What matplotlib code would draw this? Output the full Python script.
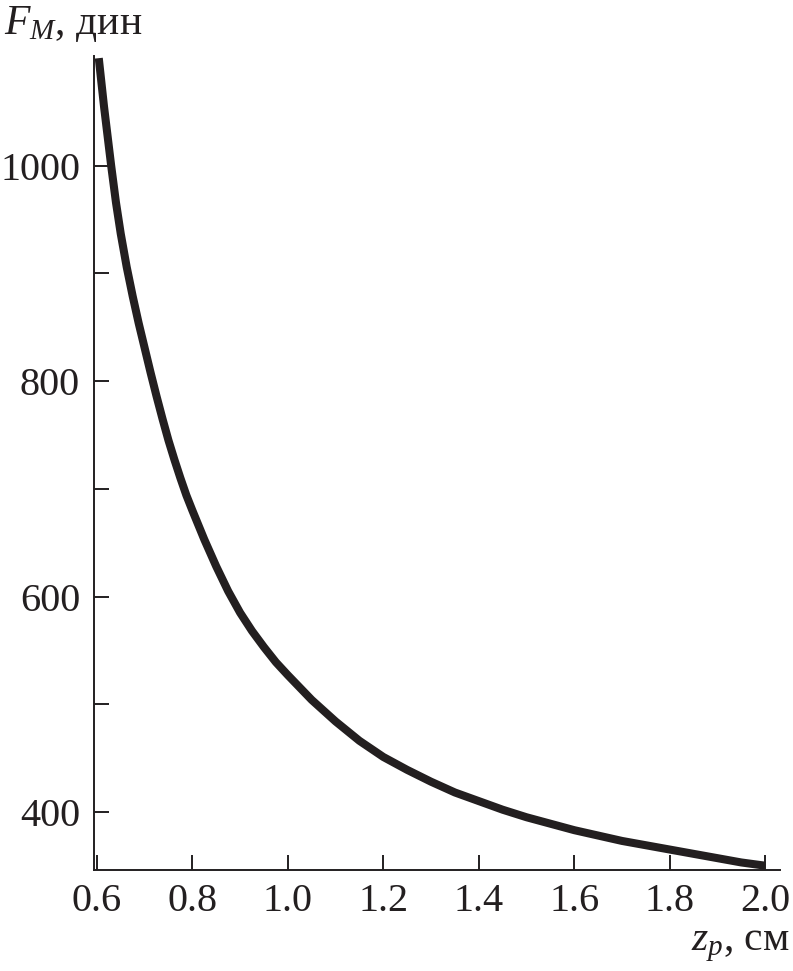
import matplotlib
matplotlib.use("Agg")
import matplotlib.pyplot as plt
from matplotlib.ticker import FixedLocator

# Data
z_p = [0.604, 0.615, 0.63, 0.64, 0.65, 0.6625, 0.675, 0.6875, 0.70, 0.7125, 0.725, 0.7375,
       0.75, 0.7625, 0.775, 0.7875, 0.80, 0.825, 0.85, 0.875, 0.90, 0.925, 0.95, 0.975,
       1.00, 1.05, 1.10, 1.15, 1.20, 1.25, 1.30, 1.35, 1.40, 1.45, 1.50, 1.55,
       1.60, 1.65, 1.70, 1.75, 1.80, 1.85, 1.90, 1.95, 2.00]
F_M = [1100, 1055, 1000, 966, 937, 906, 879, 854, 831, 808, 786, 765,
       745, 727, 710, 694, 680, 653, 628, 605, 585, 568, 553, 539,
       527, 504, 484, 466, 451, 439, 428, 418, 410, 402, 395, 389,
       383, 378, 373, 369, 365, 361, 357, 353, 350]

x_ticks = [0.6, 0.8, 1.0, 1.2, 1.4, 1.6, 1.8, 2.0]
x_ticklabels = ["0.6", "0.8", "1.0", "1.2", "1.4", "1.6", "1.8", "2.0"]
y_ticks = [400, 600, 800, 1000]
y_minor = [500, 700, 900]

plt.rcParams['font.family'] = ['Liberation Serif', 'DejaVu Serif']
plt.rcParams['mathtext.fontset'] = 'custom'
plt.rcParams['mathtext.rm'] = 'Liberation Serif'
plt.rcParams['mathtext.it'] = 'Liberation Serif:italic'

ink = '#231f20'
fig = plt.figure(figsize=(7.93, 9.71), dpi=100)
ax = fig.add_axes([94/793, 101/971, (780-94)/793, (870-56)/971])

ax.plot(z_p, F_M, color=ink, lw=5.8, solid_capstyle='butt', solid_joinstyle='round')

ax.set_xlim(0.594, 2.031)
ax.set_ylim(346, 1102)

ax.set_xticks(x_ticks)
ax.set_xticklabels(x_ticklabels)
ax.set_yticks(y_ticks)
ax.yaxis.set_minor_locator(FixedLocator(y_minor))

for s in ['top', 'right']:
    ax.spines[s].set_visible(False)
for s in ['left', 'bottom']:
    ax.spines[s].set_linewidth(1.4)
    ax.spines[s].set_color(ink)

ax.tick_params(axis='both', which='both', direction='in', length=10.5, width=1.4,
               color=ink, labelcolor=ink, labelsize=29)
ax.tick_params(axis='y', which='both', pad=10)
ax.tick_params(axis='x', which='both', pad=9)

fig.text(4/793, 1 - 34/971, r'$F_M$, дин', fontsize=30, color=ink, ha='left', va='baseline')
fig.text(790/793, 1 - 950/971, r'$z_p$, см', fontsize=30, color=ink, ha='right', va='baseline')

fig.savefig('out.png', dpi=100)
